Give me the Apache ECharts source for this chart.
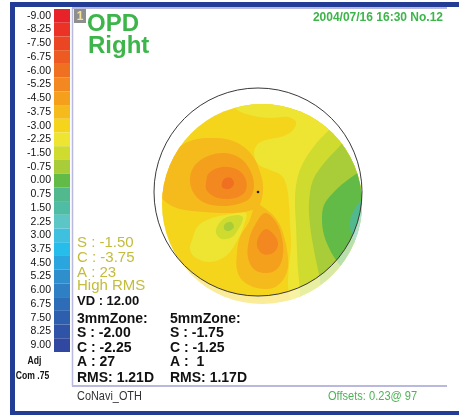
<!DOCTYPE html>
<html><head><meta charset="utf-8">
<script src="https://cdn.jsdelivr.net/npm/echarts@6/dist/echarts.min.js"></script>
<style>html,body{margin:0;padding:0;background:#fff}#c{width:459px;height:416px}</style>
</head><body><div id="c"></div><script>
// ---- colour scale (dioptres) ----
const scaleLabels = ['-9.00','-8.25','-7.50','-6.75','-6.00','-5.25','-4.50','-3.75','-3.00','-2.25','-1.50','-0.75','0.00','0.75','1.50','2.25','3.00','3.75','4.50','5.25','6.00','6.75','7.50','8.25','9.00'];
const scaleColors = ['#e72228','#ea3326','#eb4624','#ed5a22','#ef7021','#f2881f','#f4a01d','#f5ba1c','#f5d41c','#eee432','#cfdb2e','#a9cd38','#62ba47','#52b98f','#4fbca4','#5cc5c6','#3fc0df','#26bdea','#2ba5dd','#2f8fcd','#2e7fc3','#2d6db8','#2e5fae','#2f53a6','#3148a0'];

// ---- OPD map: contour regions (level in D, outline in % of map radius) ----
const mapRadius = 100;
const pupilCenter = [-4, 12];
const pupilRadius = 104;
const regionLevels = [-3.0, -2.25, -1.5, -0.75, 0.0, 0.75, -2.25, -1.5, -0.75, -3.75, -3.75, -4.5, -4.5, -5.25, -5.25, -6.0];
const regionOutlines = [
  [[-130,130],[130,130],[130,-130],[-130,-130]],
  [[-34,109],[118,109],[118,-116],[30,-116],[28,-96],[26,-81],[27,-61],[29,-41],[28,-21],[27,-1],[25,16],[20,28],[8,34],[-4,40],[-8,52],[-3,61],[8,65],[22,68],[31,74],[34,82],[26,87],[8,86],[-12,89],[-26,95]],
  [[78,104],[78,84],[65,72],[53,59],[41,41],[35,24],[33,4],[34,-21],[35,-46],[36,-66],[38,-86],[40,-116],[118,-116],[118,104]],
  [[93,84],[81,62],[63,42],[51,24],[47,1],[48,-21],[51,-41],[55,-61],[58,-76],[62,-116],[118,-116],[118,84]],
  [[118,44],[103,36],[83,22],[71,11],[62,-1],[60,-16],[62,-31],[68,-46],[74,-56],[83,-68],[98,-86],[118,-86]],
  [[118,9],[100,4],[92,-6],[88,-18],[90,-31],[96,-41],[118,-46]],
  [[-72,-46],[-70,-36],[-64,-22],[-50,-14],[-30,-10],[-16,-9],[-18,-21],[-25,-37],[-36,-52],[-52,-58],[-66,-54]],
  [[-46,-29],[-44,-21],[-37,-14],[-24,-11],[-19,-14],[-23,-24],[-30,-33],[-40,-35]],
  [[-38,-25],[-37,-20],[-31,-18],[-28,-23],[-33,-27]],
  [[-102,29],[-94,46],[-84,56],[-69,64],[-50,66],[-32,64],[-18,57],[-8,46],[-2,32],[1,19],[0,6],[-4,-3],[-18,-8],[-37,-9],[-57,-8],[-77,-6],[-92,-1],[-102,9]],
  [[-7,1],[5,-6],[15,-16],[21,-29],[25,-46],[26,-63],[21,-76],[11,-84],[-5,-84],[-19,-77],[-25,-66],[-25,-49],[-22,-33],[-13,-18],[-9,-6]],
  [[-72,26],[-67,39],[-54,48],[-37,51],[-22,46],[-12,34],[-8,19],[-12,6],[-24,0],[-42,-2],[-59,2],[-69,12]],
  [[3,-9],[14,-18],[20,-34],[21,-51],[16,-64],[6,-69],[-7,-66],[-14,-54],[-13,-36],[-7,-21]],
  [[-56,21],[-53,31],[-40,37],[-24,34],[-16,24],[-17,12],[-27,6],[-44,6],[-55,13]],
  [[4,-25],[13,-32],[16,-41],[11,-49],[1,-50],[-5,-42],[-3,-32]],
  [[-38,25],[-31,26],[-28,20],[-33,15],[-40,17]]
];

function levelColor(lv){ return scaleColors[Math.round((lv + 9) / 0.75)]; }
function fade(hex, t){
  const n = parseInt(hex.slice(1),16);
  const r=(n>>16)&255,g=(n>>8)&255,b=n&255;
  const m=c=>Math.round(c+(255-c)*t);
  return 'rgb('+m(r)+','+m(g)+','+m(b)+')';
}
function regionRenderer(faded){
  return function(params, api){
    const i = params.dataIndex;
    const pts = regionOutlines[i].map(p => api.coord(p));
    const c0 = api.coord([0,0]);
    const rD = api.size([mapRadius, mapRadius])[0];
    const pc = api.coord(pupilCenter);
    const rP = api.size([pupilRadius, pupilRadius])[0];
    const col = levelColor(regionLevels[i]);
    const poly = {type:'polygon', shape:{points:pts, smooth:0.35}, style:{fill: faded ? fade(col,0.55) : col}};
    const inner = faded ? poly : {type:'group', clipPath:{type:'circle', shape:{cx:pc[0], cy:pc[1], r:rP}}, children:[poly]};
    return {type:'group', clipPath:{type:'circle', shape:{cx:c0[0], cy:c0[1], r:rD}}, children:[inner]};
  };
}

const GREEN = '#3db54a', OLIVE = '#c3bc3c', BLUE = '#233c95', LAV = '#b9b9de';
const SANS = 'Liberation Sans';
function txt(s, x, y, font, fill, align, sx){
  return {type:'text', x:x, y:y, z:100, scaleX: sx || 1,
          style:{text:s, font:font, fill:fill, align:align||'left', verticalAlign:'middle'}};
}

const chart = echarts.init(document.getElementById('c'), null, {renderer:'canvas'});
chart.setOption({
  animation:false,
  backgroundColor:'#ffffff',
  grid:[
    {left:54, top:9, width:16, height:343},
    {left:162, top:104, width:200, height:200}
  ],
  xAxis:[
    {gridIndex:0, type:'value', min:0, max:1, show:false},
    {gridIndex:1, type:'value', min:-100, max:100, show:false}
  ],
  yAxis:[
    {gridIndex:0, type:'category', inverse:true, data:scaleLabels,
     axisLine:{show:false}, axisTick:{show:false},
     axisLabel:{interval:0, fontFamily:SANS, fontSize:10.5, color:'#111', margin:3}},
    {gridIndex:1, type:'value', min:-100, max:100, show:false}
  ],
  series:[
    {type:'bar', xAxisIndex:0, yAxisIndex:0, barWidth:'100%', barCategoryGap:'0%',
     data: scaleLabels.map((_,i)=>({value:1, itemStyle:{color:scaleColors[i]}})), silent:true},
    {type:'custom', xAxisIndex:1, yAxisIndex:1, clip:false, silent:true,
     data: regionLevels.map(lv=>[0,0,lv]), renderItem: regionRenderer(true)},
    {type:'custom', xAxisIndex:1, yAxisIndex:1, clip:false, silent:true,
     data: regionLevels.map(lv=>[0,0,lv]), renderItem: regionRenderer(false)},
    {type:'custom', xAxisIndex:1, yAxisIndex:1, clip:false, silent:true,
     data:[pupilCenter], renderItem:function(params, api){
       const pc = api.coord(pupilCenter);
       const rP = api.size([pupilRadius, pupilRadius])[0];
       return {type:'group', children:[
         {type:'circle', shape:{cx:pc[0], cy:pc[1], r:rP}, style:{fill:null, stroke:'#3a3a3a', lineWidth:1}},
         {type:'circle', shape:{cx:pc[0], cy:pc[1], r:1.3}, style:{fill:'#222'}}
       ]};
     }}
  ],
  graphic:[
    {type:'rect', shape:{x:10, y:2, width:449, height:5}, style:{fill:BLUE}},
    {type:'rect', shape:{x:10, y:2, width:5, height:413}, style:{fill:BLUE}},
    {type:'rect', shape:{x:10, y:411, width:449, height:4}, style:{fill:BLUE}},
    {type:'line', shape:{x1:72, y1:8, x2:447, y2:8}, style:{stroke:LAV, lineWidth:2}},
    {type:'line', shape:{x1:72.5, y1:8, x2:72.5, y2:386}, style:{stroke:LAV, lineWidth:1.5}},
    {type:'line', shape:{x1:72, y1:386, x2:447, y2:386}, style:{stroke:LAV, lineWidth:2}},
    {type:'rect', shape:{x:74, y:9, width:12, height:14}, style:{fill:'#8e8e8e'}},
    txt('1', 80, 16.5, 'bold 12px '+SANS, '#f3e49a', 'center'),
    txt('OPD', 87, 24, 'bold 24px '+SANS, GREEN),
    txt('Right', 88, 46.5, 'bold 24px '+SANS, GREEN),
    txt('2004/07/16 16:30 No.12', 443, 17.5, 'bold 12px '+SANS, GREEN, 'right'),
    txt('S : -1.50', 77, 242.5, '15px '+SANS, OLIVE),
    txt('C : -3.75', 77, 257.5, '15px '+SANS, OLIVE),
    txt('A : 23', 77, 272.5, '15px '+SANS, OLIVE),
    txt('High RMS', 77, 286, '15px '+SANS, OLIVE),
    txt('VD : 12.00', 77, 301.5, 'bold 13px '+SANS, '#111'),
    txt('3mmZone:', 77, 319, 'bold 14px '+SANS, '#111'),
    txt('S : -2.00', 77, 333.5, 'bold 14px '+SANS, '#111'),
    txt('C : -2.25', 77, 348, 'bold 14px '+SANS, '#111'),
    txt('A : 27', 77, 362.5, 'bold 14px '+SANS, '#111'),
    txt('RMS: 1.21D', 77, 378, 'bold 14px '+SANS, '#111'),
    txt('5mmZone:', 170, 319, 'bold 14px '+SANS, '#111'),
    txt('S : -1.75', 170, 333.5, 'bold 14px '+SANS, '#111'),
    txt('C : -1.25', 170, 348, 'bold 14px '+SANS, '#111'),
    txt('A :  1', 170, 362.5, 'bold 14px '+SANS, '#111'),
    txt('RMS: 1.17D', 170, 378, 'bold 14px '+SANS, '#111'),
    txt('CoNavi_OTH', 77, 396, '13px '+SANS, '#333', 'left', 0.84),
    txt('Offsets: 0.23@ 97', 328, 396, '13.5px '+SANS, '#4db356', 'left', 0.82),
    txt('Adj', 34.5, 361, 'bold 10.5px '+SANS, '#111', 'center', 0.82),
    txt('Com .75', 32.5, 376, 'bold 10.5px '+SANS, '#111', 'center', 0.82)
  ]
});
</script></body></html>
